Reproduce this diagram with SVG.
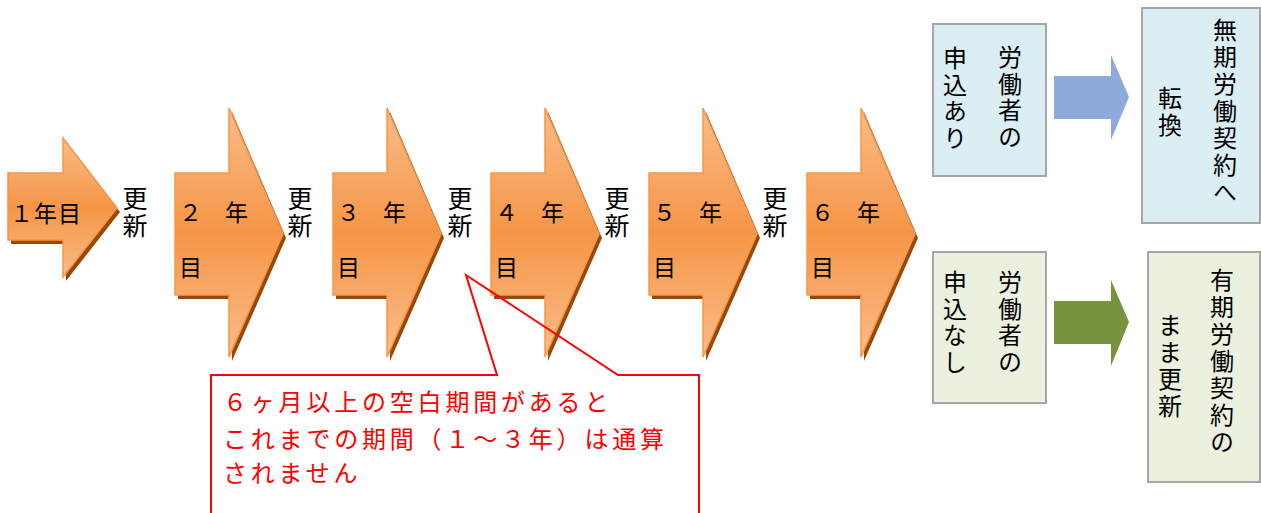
<svg xmlns="http://www.w3.org/2000/svg" width="1261" height="513" viewBox="0 0 1261 513">
<defs>
<linearGradient id="og" x1="0" y1="0" x2="0" y2="1">
<stop offset="0" stop-color="#f9bd8a"/>
<stop offset="0.5" stop-color="#f69546"/>
<stop offset="1" stop-color="#f9bd8a"/>
</linearGradient>
</defs>
<style>
.arr{fill:url(#og);stroke:#f79646;stroke-width:1.5;stroke-linejoin:miter}
.sh{fill:#984807}
.t{font-family:"Noto Sans CJK JP","Noto Sans",sans-serif;fill:#000}
.big{font-size:23px}
.v{writing-mode:vertical-rl;text-orientation:upright}
.upd{font-size:25px;letter-spacing:2px}
.vt{font-size:24px;letter-spacing:2.5px}
.vt2{font-size:24px;letter-spacing:3px}
.red{font-family:"Noto Sans CJK JP","Noto Sans",sans-serif;font-size:24px;fill:#ff0000;letter-spacing:3.8px}
.box{stroke:#a6a6a6;stroke-width:2}
</style>
<rect width="1261" height="513" fill="#ffffff"/>

<g id="arrow1">
<polygon class="sh" points="11,177 66,177 66,142 120,212 66,281 66,244 11,244"/>
<polygon class="arr" points="8,173 63,173 63,138 117,208 63,277 63,240 8,240"/>
<text class="t big" x="10" y="222" letter-spacing="1">１年目</text>
</g>
<g id="arrow2">
<polygon class="sh" points="178,177 232,177 232,112 286,238 232,361 232,299 178,299"/>
<polygon class="arr" points="175,173 229,173 229,108 283,234 229,357 229,295 175,295"/>
<text class="t big" x="179" y="221">２　年</text>
<text class="t big" x="179" y="276">目</text>
</g>
<g id="arrow3">
<polygon class="sh" points="336,177 390,177 390,112 444,238 390,361 390,299 336,299"/>
<polygon class="arr" points="333,173 387,173 387,108 441,234 387,357 387,295 333,295"/>
<text class="t big" x="337" y="221">３　年</text>
<text class="t big" x="337" y="276">目</text>
</g>
<g id="arrow4">
<polygon class="sh" points="494,177 548,177 548,112 602,238 548,361 548,299 494,299"/>
<polygon class="arr" points="491,173 545,173 545,108 599,234 545,357 545,295 491,295"/>
<text class="t big" x="495" y="221">４　年</text>
<text class="t big" x="495" y="276">目</text>
</g>
<g id="arrow5">
<polygon class="sh" points="652,177 706,177 706,112 760,238 706,361 706,299 652,299"/>
<polygon class="arr" points="649,173 703,173 703,108 757,234 703,357 703,295 649,295"/>
<text class="t big" x="653" y="221">５　年</text>
<text class="t big" x="653" y="276">目</text>
</g>
<g id="arrow6">
<polygon class="sh" points="810,177 864,177 864,112 918,238 864,361 864,299 810,299"/>
<polygon class="arr" points="807,173 861,173 861,108 915,234 861,357 861,295 807,295"/>
<text class="t big" x="811" y="221">６　年</text>
<text class="t big" x="811" y="276">目</text>
</g>

<g id="renewals">
<text class="t v upd" x="135" y="186">更新</text>
<text class="t v upd" x="300" y="186">更新</text>
<text class="t v upd" x="460" y="186">更新</text>
<text class="t v upd" x="617" y="186">更新</text>
<text class="t v upd" x="775" y="186">更新</text>
</g>

<g id="callout">
<path d="M211,513 V375 H497 L466,275 L618,375 H699 V513" fill="none" stroke="#ff0000" stroke-width="2"/>
<text class="red" x="223" y="411">６ヶ月以上の空白期間があると</text>
<text class="red" x="223" y="448">これまでの期間（１～３年）は通算</text>
<text class="red" x="223" y="482">されません</text>
</g>

<g id="boxA">
<rect class="box" x="933" y="24" width="113" height="152" fill="#dbeef4"/>
<text class="t v vt" x="1010" y="45">労働者の</text>
<text class="t v vt" x="955" y="46">申込あり</text>
</g>
<g id="boxB">
<rect class="box" x="1142" y="8" width="118" height="215" fill="#dbeef4"/>
<text class="t v vt2" x="1225" y="18">無期労働契約へ</text>
<text class="t v vt2" x="1170" y="86">転換</text>
</g>
<g id="boxC">
<rect class="box" x="933" y="252" width="113" height="151" fill="#ebf1de"/>
<text class="t v vt" x="1010" y="270">労働者の</text>
<text class="t v vt" x="955" y="270">申込なし</text>
</g>
<g id="boxD">
<rect class="box" x="1148" y="252" width="112" height="230" fill="#ebf1de"/>
<text class="t v vt2" x="1222" y="268">有期労働契約の</text>
<text class="t v vt2" x="1170" y="313">まま更新</text>
</g>

<g id="connectors">
<polygon points="1054,76 1111,76 1111,55 1129,97 1111,140 1111,119 1054,119" fill="#8eaadb"/>
<polygon points="1054,301 1111,301 1111,280 1129,322 1111,366 1111,344 1054,344" fill="#77933c"/>
</g>
</svg>
